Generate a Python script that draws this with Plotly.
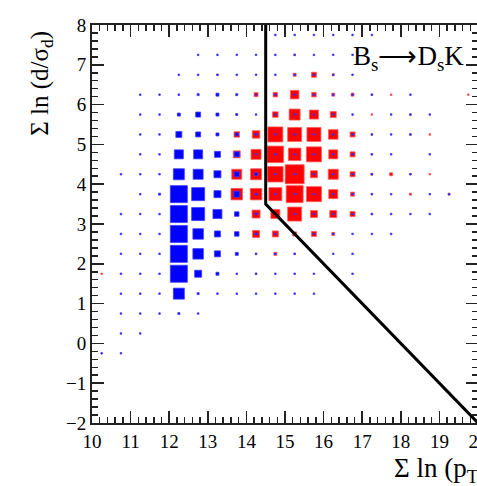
import plotly.graph_objects as go

# ---- data -------------------------------------------------------------
# bin centres of the 2-D histograms (bin width 0.5 in both directions)
x_bins = [10.25, 10.75, 11.25, 11.75, 12.25, 12.75, 13.25, 13.75, 14.25, 14.75,
          15.25, 15.75, 16.25, 16.75, 17.25, 17.75, 18.25, 18.75, 19.25, 19.75]
y_bins = [7.75, 7.25, 6.75, 6.25, 5.75, 5.25, 4.75, 4.25, 3.75, 3.25,
          2.75, 2.25, 1.75, 1.25, 0.75, 0.25, -0.25, -0.75, -1.25, -1.75]

T = 1.5  # smallest non-empty bin content
# background (blue) bin contents, one row per y bin (top to bottom)
blue_counts = [
    [0, 0, 0, 0, 0, 0, 0, 0, 0, T, T, T, T, T, T, 0, 0, 0, 0, 0],
    [0, 0, 0, 0, 0, T, T, T, T, T, T, T, T, T, 0, 0, 0, 0, 0, 0],
    [0, 0, 0, 0, T, T, T, T, T, T, T, T, T, T, 0, 0, 0, 0, 0, 0],
    [0, 0, T, T, T, 2, 3, 2, T, T, T, T, T, T, T, 0, T, 0, 0, 0],
    [0, 0, T, T, 3, 5, 3, 2, T, T, T, T, T, T, 0, T, T, T, 0, 0],
    [0, 0, T, T, 6, 5, 3, 3, 2, T, T, T, T, T, T, T, T, 0, 0, 0],
    [0, 0, T, T, 9, 9, 6, 5, T, T, T, T, T, T, T, T, 0, T, 0, 0],
    [0, T, T, T, 11, 10, 7, 5, 3, T, T, T, T, T, T, 0, T, 0, 0, 0],
    [0, 0, T, 2, 17, 13, 7, 6, 2, T, T, T, T, T, T, T, 0, T, T, 0],
    [0, T, T, T, 17, 13, 9, 4.5, 2, T, T, T, T, T, T, T, T, T, 0, 0],
    [0, T, T, T, 17, 10.5, 6, 4.5, 2, T, T, T, T, T, T, T, 0, 0, 0, 0],
    [0, T, T, T, 17, 10.5, 6, 3, T, T, T, T, T, T, 0, 0, 0, 0, 0, 0],
    [0, T, T, T, 17, 7, 3, T, T, T, T, T, T, T, 0, 0, 0, 0, 0, 0],
    [0, T, T, T, 11, 2, T, T, T, T, T, T, 0, 0, 0, 0, 0, 0, 0, 0],
    [0, T, T, T, 2, T, 0, 0, 0, 0, 0, 0, 0, 0, 0, 0, 0, 0, 0, 0],
    [0, T, T, 0, 0, 0, 0, 0, 0, 0, 0, 0, 0, 0, 0, 0, 0, 0, 0, 0],
    [T, T, 0, 0, 0, 0, 0, 0, 0, 0, 0, 0, 0, 0, 0, 0, 0, 0, 0, 0],
    [0] * 20,
    [0] * 20,
    [0] * 20,
]
# signal (red) bin contents
red_counts = [
    [0] * 20,
    [0, 0, 0, 0, 0, 0, 0, 0, 0, 0, T, 0, 0, 0, 0, 0, 0, 0, 0, 0],
    [0, 0, 0, 0, 0, 0, T, 0, 0, 0, 3, 5, 2, 0, 0, 0, 0, 0, 0, 0],
    [0, 0, 0, 0, 1, 0, 0, 0, 4, 4.5, 8.5, 4.5, 3, 3, T, T, 0, 0, 0, T],
    [0, 0, 0, 0, 0, 0, 0, 0, 0, 5.5, 11, 9, 6, 0, T, 0, T, 0, 0, 0],
    [0, 0, 0, 0, 0, 0, 0, 5.5, 7.5, 15, 14, 14, 9.5, 5, T, 0, T, T, 0, 0],
    [0, 0, 0, 0, 0, 0, 0, 7, 10, 16.5, 12.5, 15, 9, 5, T, 0, 0, 0, 0, 0],
    [0, 0, 0, 0, 0, 0, 0, 10, 11, 15.5, 19, 7, 10, 5, 2, 3, T, T, 0, 0],
    [0, 0, 0, 0, 0, 0, 0, 11.5, 11.5, 13, 17, 15, 9, 4, T, 0, 2, 0, 2, 0],
    [0, 0, 0, 0, 0, 0, 0, 2, 8, 9, 14, 7, 7, 5, T, 0, 0, 0, 0, 0],
    [0, 0, 0, 0, 0, 0, 0, 0, 7, 6, 4, 5, 3, 0, 0, 0, 0, 0, 0, 0],
    [0, 0, 0, 0, 0, 0, 0, 0, T, 3, T, 0, 0, 0, 0, 0, 0, 0, 0, 0],
    [T, 0, 0, 0, 0, 0, 0, 0, T, 0, 0, 0, 0, 0, 0, 0, 0, 0, 0, 0],
    [0] * 20,
    [0] * 20,
    [0] * 20,
    [0] * 20,
    [0] * 20,
    [0] * 20,
    [0] * 20,
]

# selection cut (black line)
cut_x = [14.5, 14.5, 20.0]
cut_y = [8.0, 3.5, -2.0]

x_ticks = [10, 11, 12, 13, 14, 15, 16, 17, 18, 19, 20]
y_ticks = [-2, -1, 0, 1, 2, 3, 4, 5, 6, 7, 8]

# ---- styling constants ---------------------------------------------------
BOX_PX = 1.0  # pixel side of a box per unit of bin content
SERIF = "Liberation Serif"
FRAME = "#222222"


def flatten(counts):
    xs, ys, ss = [], [], []
    for j, yv in enumerate(y_bins):
        for i, xv in enumerate(x_bins):
            c = counts[j][i]
            if c > 0:
                xs.append(xv)
                ys.append(yv)
                ss.append(c * BOX_PX)
    return xs, ys, ss


rx, ry, rs = flatten(red_counts)
bx, by, bs = flatten(blue_counts)

fig = go.Figure()
fig.add_trace(go.Scatter(
    x=rx, y=ry, mode="markers",
    marker=dict(symbol="square", size=rs, color="#ff0000", opacity=1,
                line=dict(color="#ff5c5c", width=0.8)),
    hoverinfo="skip", showlegend=False))
fig.add_trace(go.Scatter(
    x=bx, y=by, mode="markers",
    marker=dict(symbol="square", size=bs, color="#0000ff", opacity=1,
                line=dict(color="#3c3cff", width=0.8)),
    hoverinfo="skip", showlegend=False))
fig.add_trace(go.Scatter(
    x=cut_x, y=cut_y, mode="lines",
    line=dict(color="black", width=3),
    hoverinfo="skip", showlegend=False))

axis_common = dict(
    showline=True, linecolor=FRAME, linewidth=2, mirror="allticks",
    ticks="inside", ticklen=12, tickwidth=1.5, tickcolor=FRAME,
    showgrid=False, zeroline=False,
    tickfont=dict(family=SERIF, size=19, color="black"),
    minor=dict(dtick=0.2, ticks="inside", ticklen=6, tickwidth=1.5,
               tickcolor=FRAME, showgrid=False),
)
fig.update_xaxes(range=[10, 20], tickvals=x_ticks, **axis_common)
fig.update_yaxes(range=[-2, 8], tickvals=y_ticks, **axis_common)

fig.add_annotation(text="B<sub>s</sub>\u27f6D<sub>s</sub>K", xref="paper", yref="paper",
                   x=0.8205, y=0.917, xanchor="center", yanchor="middle",
                   showarrow=False, font=dict(family=SERIF, size=27, color="black"))
fig.add_annotation(text="\u03a3 ln (p<sub>T</sub>)", xref="paper", yref="paper",
                   x=0.777, y=-0.118, xanchor="left", yanchor="middle",
                   showarrow=False, font=dict(family=SERIF, size=27, color="black"))
fig.add_annotation(text="\u03a3 ln (d/\u03c3<sub>d</sub>)", xref="paper", yref="paper",
                   x=-0.133, y=0.854, xanchor="center", yanchor="middle",
                   textangle=-90, showarrow=False,
                   font=dict(family=SERIF, size=25, color="black"))

fig.update_layout(
    width=500, height=486,
    margin=dict(l=92, r=18, t=25, b=63),
    paper_bgcolor="white", plot_bgcolor="white",
)

fig.write_html("out.html",
               config={"displayModeBar": False, "staticPlot": True},
               post_script="document.body.style.margin='0';"
                           "document.body.style.overflow='hidden';")
